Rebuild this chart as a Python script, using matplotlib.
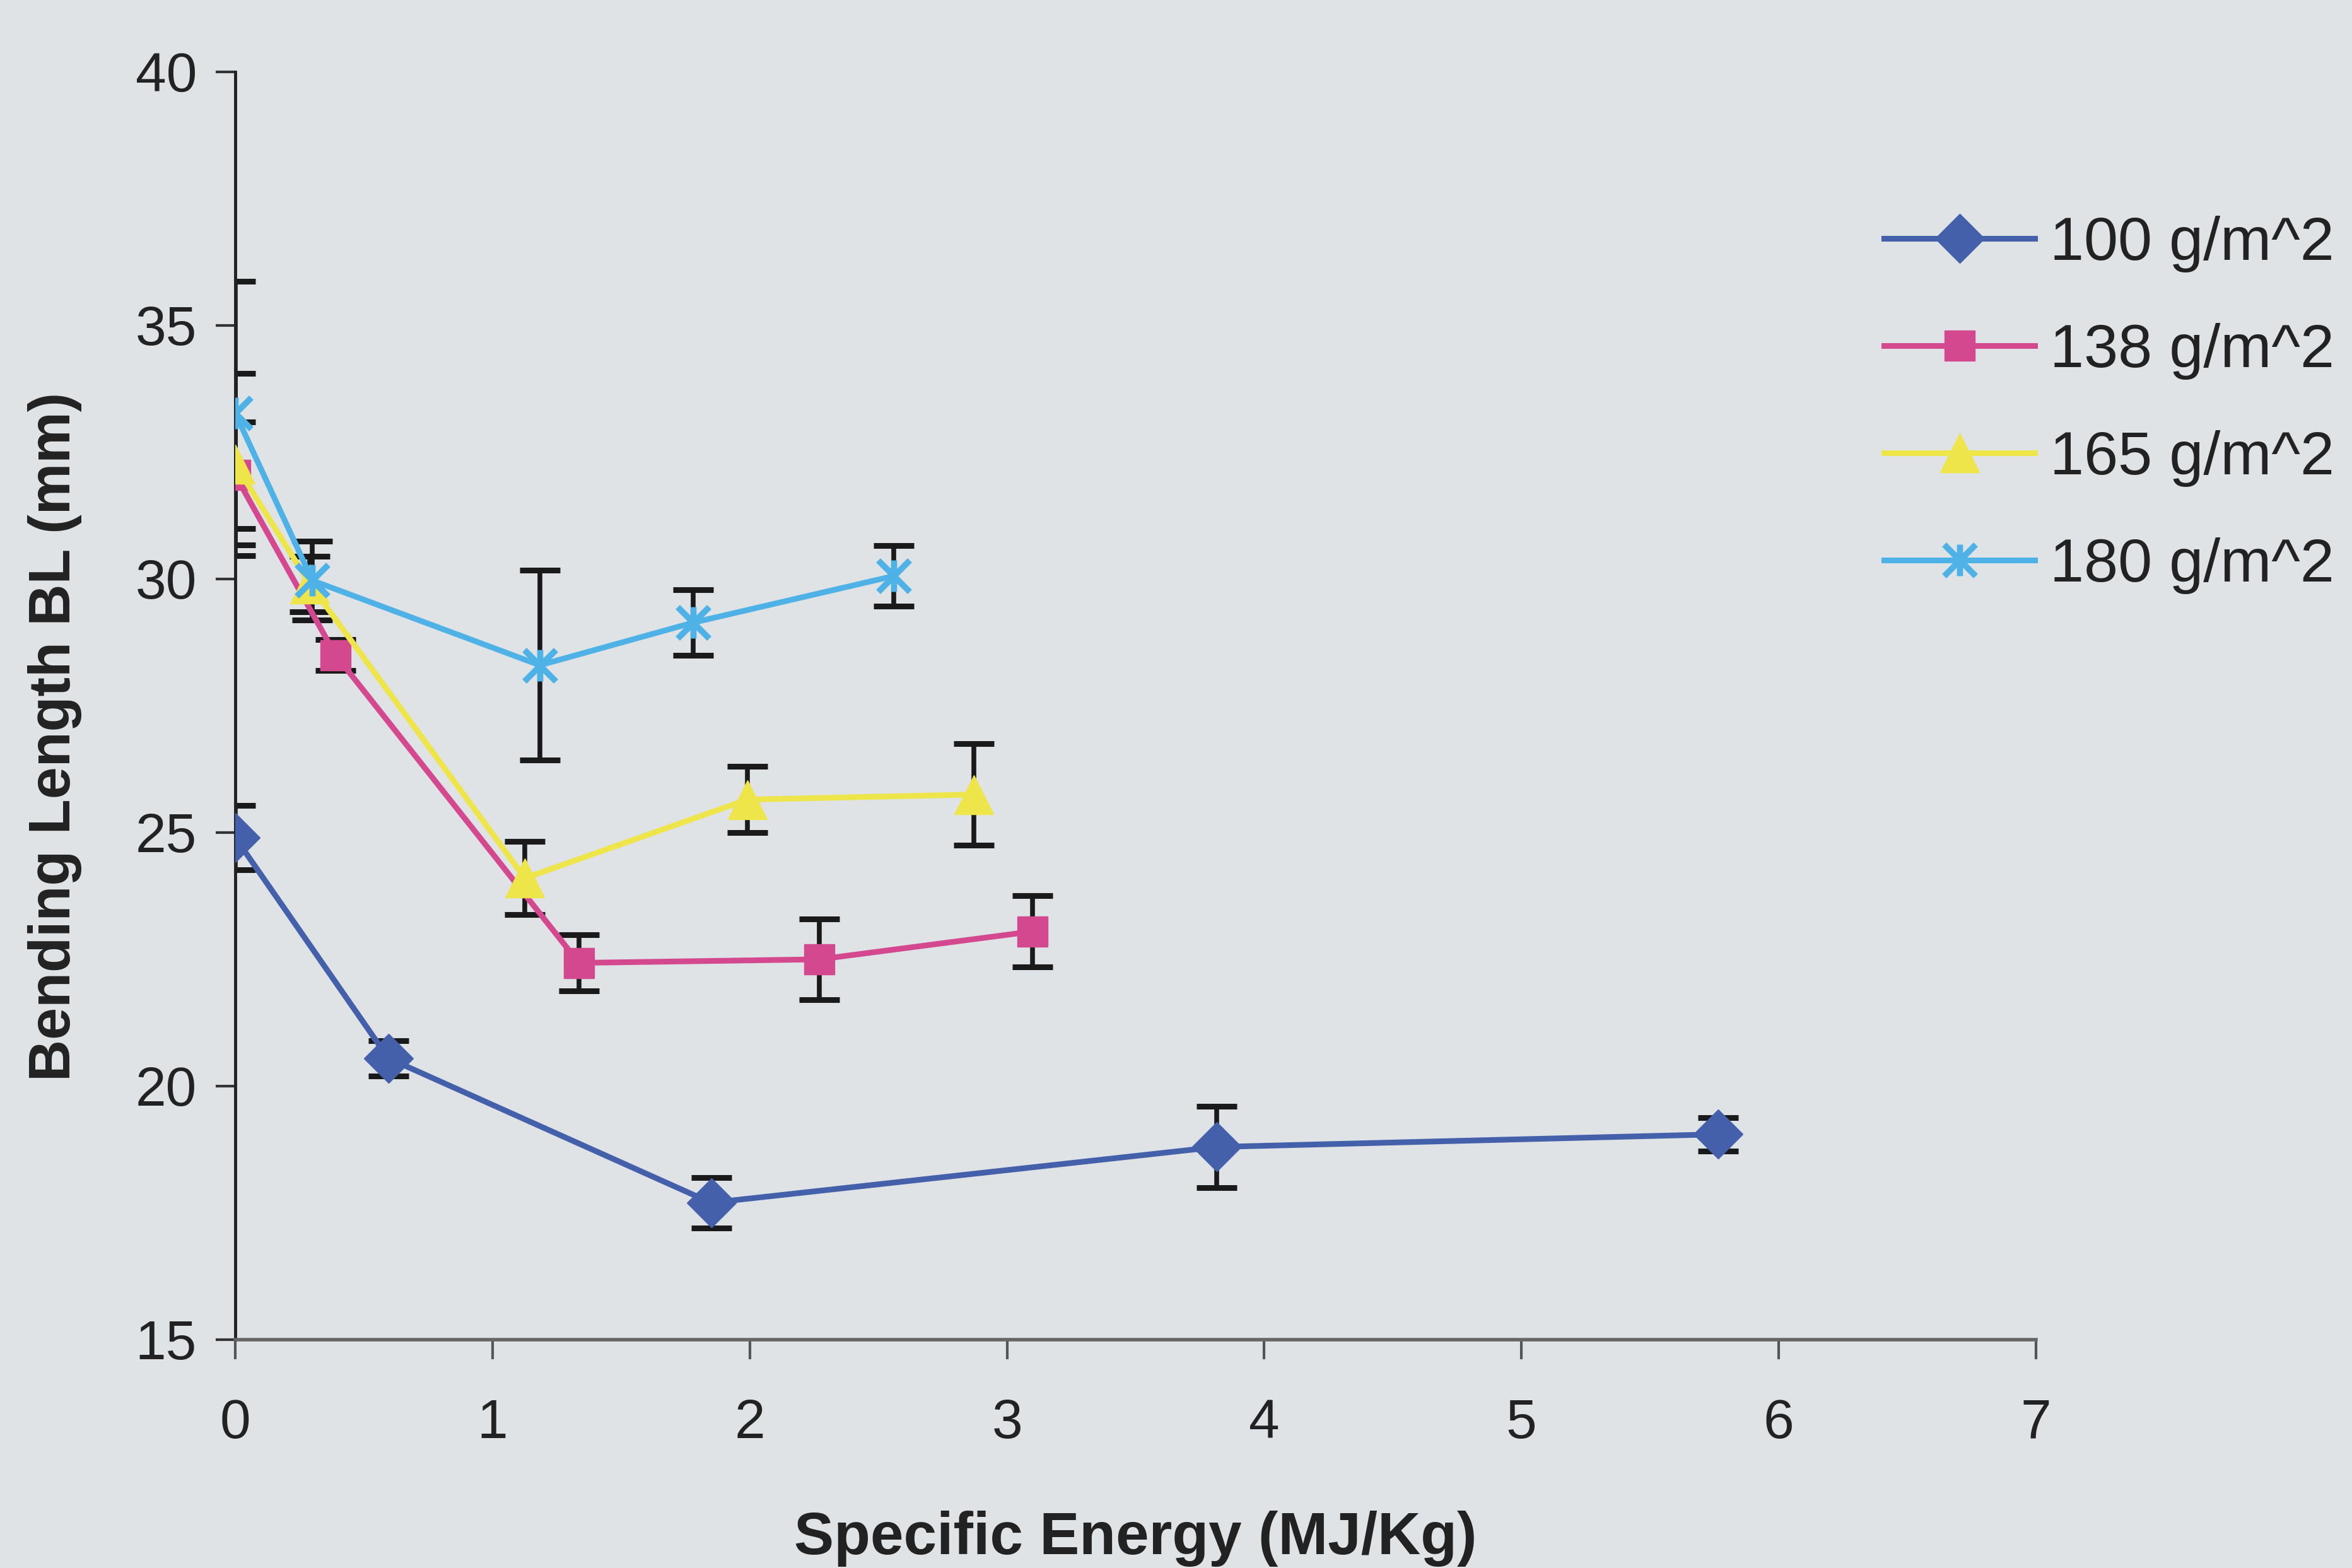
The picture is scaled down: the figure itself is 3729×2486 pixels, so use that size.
import matplotlib
matplotlib.use("Agg")
import matplotlib.pyplot as plt
from matplotlib.path import Path

# data: specific energy (MJ/Kg) vs bending length (mm)
labels = ["100 g/m^2", "138 g/m^2", "165 g/m^2", "180 g/m^2"]

energy_100 = [0, 0.595, 1.85, 3.815, 5.765]
bl_100 = [24.9, 20.55, 17.7, 18.8, 19.05]
err_100 = [0.63, 0.35, 0.5, 0.8, 0.33]

energy_138 = [0, 0.39, 1.336, 2.27, 3.10]
bl_138 = [32.05, 28.5, 22.43, 22.5, 23.05]
err_138 = [1.05, 0.3, 0.55, 0.8, 0.7]

energy_165 = [0, 0.29, 1.126, 1.99, 2.87]
bl_165 = [32.26, 29.9, 24.1, 25.65, 25.75]
err_165 = [1.8, 0.55, 0.72, 0.65, 1.0]

energy_180 = [0, 0.30, 1.184, 1.78, 2.56]
bl_180 = [33.27, 29.97, 28.3, 29.14, 30.06]
err_180 = [2.6, 0.78, 1.87, 0.65, 0.6]

bg = "#dfe3e6"
plt.rcParams['font.family'] = ['Liberation Sans', 'DejaVu Sans']

# excel style star: an x with a vertical stroke
star = Path([(-1, -1), (1, 1), (-1, 1), (1, -1), (0, -1), (0, 1)],
            [Path.MOVETO, Path.LINETO, Path.MOVETO, Path.LINETO, Path.MOVETO, Path.LINETO])

series = [
    (energy_100, bl_100, err_100, "#4560ab", "D", 40),
    (energy_138, bl_138, err_138, "#d4488f", "s", 34),
    (energy_165, bl_165, err_165, "#eee54a", "^", 44),
    (energy_180, bl_180, err_180, "#4fb2e6", star, 36),
]

fig = plt.figure(figsize=(37.3, 24.86), dpi=100, facecolor=bg)
ax = fig.add_axes([373/3730, 1 - 2124/2486, (3228-373)/3730, (2124-114)/2486])
ax.set_facecolor(bg)

for (x, y, e, c, m, ms), lab in zip(series, labels):
    ax.errorbar(x, y, yerr=e, fmt="none", ecolor="#1a1a1a", elinewidth=5.5,
                capsize=23, capthick=6.5, zorder=2)
    ax.plot(x, y, color=c, lw=6.5, marker=m, markersize=ms, markeredgewidth=7 if m is star else 1,
            markerfacecolor=c, markeredgecolor=c, label=lab, zorder=3)

ax.set_xlim(0, 7)
ax.set_ylim(15, 40)
ax.set_xticks(range(0, 8))
ax.set_yticks(range(15, 41, 5))
for s in ["top", "right"]:
    ax.spines[s].set_visible(False)
ax.spines["left"].set_linewidth(3.5)
ax.spines["left"].set_color("#222222")
ax.spines["bottom"].set_linewidth(4)
ax.spines["bottom"].set_color("#666666")
ax.tick_params(axis="y", direction="out", length=22, width=3, color="#333333",
               labelsize=63, pad=22, labelcolor="#222222")
ax.tick_params(axis="x", direction="out", length=22, width=3, color="#555555",
               labelsize=63, pad=45, labelcolor="#222222")

ax.set_xlabel("Specific Energy (MJ/Kg)", fontsize=68, fontweight="bold", labelpad=70, color="#222222")
ax.set_ylabel("Bending Length BL (mm)", fontsize=66, fontweight="bold", color="#222222")
ax.yaxis.set_label_coords(-0.085, 0.4756)

fig.legend(loc="upper left", bbox_to_anchor=(2900/3730, 1 - 255/2486), frameon=False,
           fontsize=70, handlelength=2.45, handletextpad=0.25, labelspacing=0.82,
           labelcolor="#222222")

fig.savefig("out.png", dpi=100, facecolor=bg)
